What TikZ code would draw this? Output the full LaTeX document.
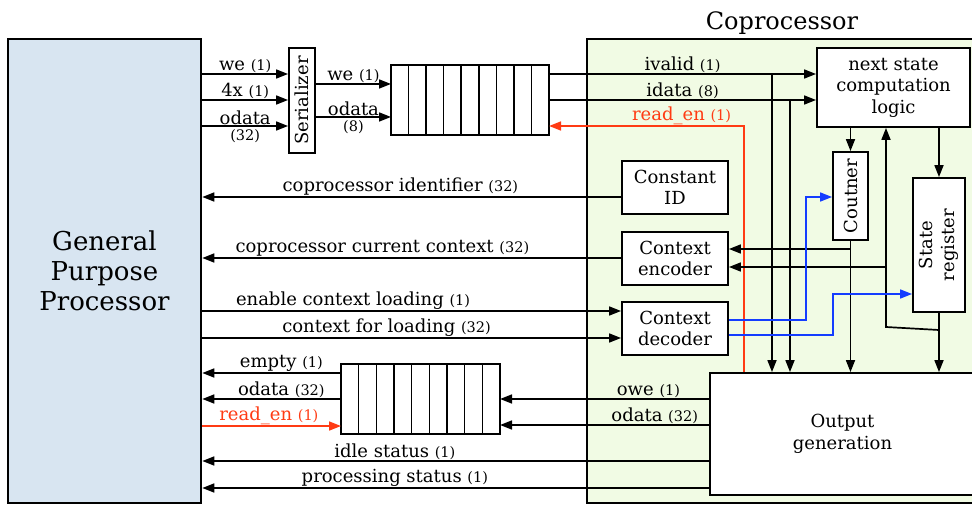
\documentclass[tikz,border=0pt]{standalone}
\usepackage{fontspec}
\setmainfont{DejaVu Serif}
\usetikzlibrary{arrows.meta}
\definecolor{gppfill}{RGB}{216,229,241}
\definecolor{copfill}{RGB}{241,251,228}
\definecolor{readred}{RGB}{255,59,20}
\definecolor{ctxblue}{RGB}{20,60,255}
\newcommand{\bits}[1]{{\fontsize{14.5}{16}\selectfont #1}}
\begin{document}
\begin{tikzpicture}[x=1pt,y=1pt,yscale=-1,
  txt/.style={font=\fontsize{18}{21.5}\selectfont},
  blk/.style={draw, line width=1.8pt, fill=white, align=center, inner sep=0pt, txt},
  fifo/.style={draw, line width=1.8pt, fill=white, outer sep=0pt},
  sig/.style={line width=1.7pt, -{Triangle[length=12pt,width=9pt]}},
  redsig/.style={sig, draw=readred},
  bluesig/.style={sig, draw=ctxblue},
  lbl/.style={txt, inner sep=0.5pt}
]
\useasboundingbox (0,0) rectangle (972,505);

% outer blocks
\node[draw, line width=2.6pt, fill=copfill, minimum width=390pt, minimum height=464pt,
  label={[font=\fontsize{24}{28}\selectfont, inner sep=3pt]above:Coprocessor}] (cop) at (782,271) {};
\node[draw, line width=2.6pt, fill=gppfill, minimum width=193pt, minimum height=464pt,
  align=center, font=\fontsize{26}{30}\selectfont] (gpp) at (104.5,271) {General\\Purpose\\Processor};

% serializer and fifos
\node[blk, minimum width=26pt, minimum height=105pt, label={[rotate=90, txt]center:Serializer}] (ser) at (302,100.5) {};
\node[fifo, minimum width=158pt, minimum height=70pt] (fifoA) at (470,100) {};
\node[fifo, minimum width=159pt, minimum height=70pt] (fifoB) at (420.5,399) {};
\foreach \i in {1,...,8} {
  \draw[line width=1.6pt] ([xshift=\i*17.56pt]fifoA.north west) -- ([xshift=\i*17.56pt]fifoA.south west);
  \draw[line width=1.6pt] ([xshift=\i*17.67pt]fifoB.north west) -- ([xshift=\i*17.67pt]fifoB.south west);
}

% coprocessor internals
\node[blk, minimum width=153pt, minimum height=79pt] (nsl) at (893.5,87.5) {next state\\computation\\logic};
\node[blk, minimum width=35pt, minimum height=88pt, label={[rotate=90, txt]center:Coutner}] (cnt) at (850.5,196) {};
\node[blk, minimum width=52pt, minimum height=134pt, label={[rotate=90, txt, align=center]center:State\\register}] (sreg) at (939,245) {};
\node[blk, minimum width=106pt, minimum height=53pt] (cid) at (675,187.5) {Constant\\ID};
\node[blk, minimum width=106pt, minimum height=53pt] (cenc) at (675,258.5) {Context\\encoder};
\node[blk, minimum width=106pt, minimum height=53pt] (cdec) at (675,328.5) {Context\\decoder};
\node[blk, minimum width=265pt, minimum height=122pt] (outg) at (842.5,434) {Output\\generation};

\coordinate (iv) at (772,74);
\coordinate (id) at (790,100);
\coordinate (rdn) at (744,126);
\coordinate (fb) at (886,327);

% processor -> serializer -> fifo
\draw[sig] (gpp.east |- 0,74) -- node[lbl,above]{we \bits{(1)}} (ser.west |- 0,74);
\draw[sig] (gpp.east |- 0,100) -- node[lbl,above]{4x \bits{(1)}} (ser.west |- 0,100);
\draw[sig] (gpp.east |- 0,126) -- node[lbl,above]{odata} node[lbl,below=2.5pt]{\bits{(32)}} (ser.west |- 0,126);
\draw[sig] (ser.east |- 0,84) -- node[lbl,above]{we \bits{(1)}} (fifoA.west |- 0,84);
\draw[sig] (ser.east |- 0,117) -- node[lbl,above]{odata} node[lbl,below=2.5pt]{\bits{(8)}} (fifoA.west |- 0,117);

% fifo -> next state logic
\draw[sig] (fifoA.east |- iv) -- node[lbl,above]{ivalid \bits{(1)}} (nsl.west |- iv);
\draw[sig] (fifoA.east |- id) -- node[lbl,above]{idata \bits{(8)}} (nsl.west |- id);
\draw[sig] (iv) -- (iv |- outg.north);
\draw[sig] (id) -- (id |- outg.north);
\draw[redsig] (rdn |- outg.north) -- (rdn) -- node[lbl,above,pos=0.32,text=readred]{read\_en \bits{(1)}} (fifoA.east |- rdn);

% state path
\draw[sig] (cnt.north |- nsl.south) -- (cnt.north);
\draw[sig] (sreg.north |- nsl.south) -- (sreg.north);
\draw[sig] (cnt.south) -- (cnt.south |- outg.north);
\draw[sig] (sreg.south) -- (sreg.south |- outg.north);
\draw[sig] ([yshift=3pt]sreg.south |- fb) -- (fb) -- (fb |- nsl.south);
\draw[sig] (cnt.south |- 0,249) -- (cenc.east |- 0,249);
\draw[sig] (fb |- 0,267) -- (cenc.east |- 0,267);
\draw[bluesig] (cdec.east |- 0,320) -| (806,197) -- (cnt.west |- 0,197);
\draw[bluesig] (cdec.east |- 0,335) -| (833,294) -- (sreg.west |- 0,294);

% coprocessor <-> processor
\draw[sig] (cid.west |- 0,197) -- node[lbl,above,pos=0.527]{coprocessor identifier \bits{(32)}} (gpp.east |- 0,197);
\draw[sig] (cenc.west |- 0,258) -- node[lbl,above,pos=0.57]{coprocessor current context \bits{(32)}} (gpp.east |- 0,258);
\draw[sig] (gpp.east |- 0,311) -- node[lbl,above,pos=0.36]{enable context loading \bits{(1)}} (cdec.west |- 0,311);
\draw[sig] (gpp.east |- 0,338) -- node[lbl,above,pos=0.44]{context for loading \bits{(32)}} (cdec.west |- 0,338);

% output side
\draw[sig] (outg.west |- 0,399) -- node[lbl,above,pos=0.29]{owe \bits{(1)}} (fifoB.east |- 0,399);
\draw[sig] (outg.west |- 0,425) -- node[lbl,above,pos=0.26]{odata \bits{(32)}} (fifoB.east |- 0,425);
\draw[sig] (outg.west |- 0,461) -- node[lbl,above,pos=0.62]{idle status \bits{(1)}} (gpp.east |- 0,461);
\draw[sig] (outg.west |- 0,488) -- node[lbl,above,pos=0.62]{processing status \bits{(1)}} (gpp.east |- 0,488);
\draw[sig] (fifoB.west |- 0,373) -- node[lbl,above,pos=0.43]{empty \bits{(1)}} (gpp.east |- 0,373);
\draw[sig] (fifoB.west |- 0,399) -- node[lbl,above,pos=0.43]{odata \bits{(32)}} (gpp.east |- 0,399);
\draw[redsig] (gpp.east |- 0,426) -- node[lbl,above,pos=0.48,text=readred]{read\_en \bits{(1)}} (fifoB.west |- 0,426);

\end{tikzpicture}
\end{document}
